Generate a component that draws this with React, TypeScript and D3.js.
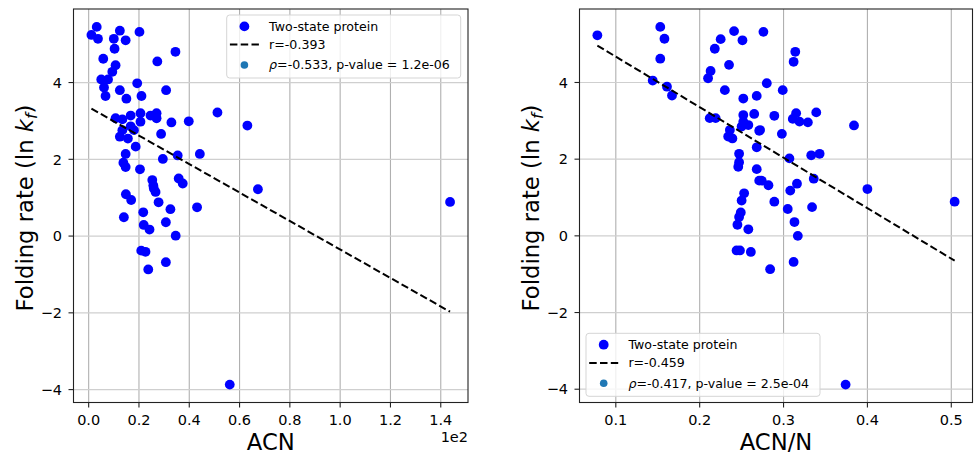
import React from "react";
import * as d3 from "d3";

// ACN vs folding rate
const acnPoints: [number, number][] = [
  [0.032, 5.45], [0.011, 5.24], [0.037, 5.14], [0.124, 5.35], [0.202, 5.32],
  [0.1, 5.14], [0.147, 5.1], [0.103, 4.88], [0.345, 4.8], [0.058, 4.62],
  [0.273, 4.55], [0.107, 4.45], [0.094, 4.28], [0.05, 4.08], [0.077, 4.08],
  [0.193, 3.98], [0.061, 3.87], [0.124, 3.8], [0.308, 3.8], [0.067, 3.65],
  [0.21, 3.65], [0.15, 3.58], [0.512, 3.22], [0.206, 3.2], [0.27, 3.2],
  [0.167, 3.14], [0.246, 3.14], [0.107, 3.07], [0.134, 3.04], [0.27, 3.07],
  [0.206, 2.98], [0.329, 2.96], [0.398, 2.99], [0.631, 2.88], [0.167, 2.86],
  [0.134, 2.76], [0.18, 2.76], [0.288, 2.66], [0.124, 2.59], [0.156, 2.54],
  [0.187, 2.33], [0.147, 2.14], [0.442, 2.14], [0.354, 2.1], [0.295, 2.01],
  [0.138, 1.91], [0.147, 1.8], [0.204, 1.74], [0.253, 1.46], [0.358, 1.5],
  [0.374, 1.37], [0.257, 1.32], [0.259, 1.24], [0.266, 1.15], [0.673, 1.22],
  [0.148, 1.09], [0.169, 0.94], [0.278, 0.88], [0.325, 0.7], [0.431, 0.75],
  [0.14, 0.49], [0.217, 0.62], [0.307, 0.36], [0.219, 0.29], [0.242, 0.17],
  [0.346, 0.01], [0.209, -0.38], [0.226, -0.41], [0.307, -0.68], [0.237, -0.87],
  [0.561, -3.87], [1.437, 0.89],
];

// ACN/N vs folding rate
const acnPerNPoints: [number, number][] = [
  [0.078, 5.23], [0.153, 5.45], [0.158, 5.14], [0.153, 4.62], [0.144, 4.05],
  [0.161, 3.89], [0.167, 3.66], [0.241, 5.34], [0.251, 5.1], [0.225, 5.13],
  [0.218, 4.88], [0.235, 4.46], [0.213, 4.3], [0.21, 4.11], [0.23, 3.8],
  [0.252, 3.58], [0.268, 3.65], [0.212, 3.07], [0.219, 3.07], [0.252, 3.15],
  [0.265, 3.18], [0.252, 2.98], [0.25, 2.85], [0.258, 2.89], [0.236, 2.76],
  [0.271, 2.74], [0.234, 2.59], [0.239, 2.54], [0.268, 2.31], [0.247, 2.14],
  [0.247, 1.92], [0.246, 1.8], [0.268, 1.74], [0.271, 1.44], [0.253, 1.11],
  [0.25, 0.92], [0.249, 0.61], [0.247, 0.49], [0.245, 0.29], [0.258, 0.17],
  [0.244, -0.38], [0.248, -0.38], [0.261, -0.42], [0.276, 5.32], [0.314, 4.8],
  [0.312, 4.54], [0.28, 3.98], [0.299, 3.8], [0.289, 3.13], [0.315, 3.2],
  [0.311, 3.05], [0.319, 2.98], [0.329, 2.96], [0.339, 3.22], [0.384, 2.88],
  [0.272, 2.76], [0.298, 2.66], [0.307, 2.02], [0.333, 2.1], [0.343, 2.14],
  [0.336, 1.49], [0.274, 1.44], [0.282, 1.32], [0.316, 1.36], [0.308, 1.18],
  [0.4, 1.22], [0.504, 0.89], [0.289, 0.89], [0.305, 0.7], [0.334, 0.75],
  [0.313, 0.36], [0.317, 0.0], [0.284, -0.87], [0.312, -0.68], [0.374, -3.88],
];

const acnFit = { slope: -3.71, intercept: 3.36 };
const acnPerNFit = { slope: -13.17, intercept: 5.99 };

const yTicks = [-4, -2, 0, 2, 4];
const acnTicks = [0, 0.2, 0.4, 0.6, 0.8, 1.0, 1.2, 1.4];
const acnPerNTicks = [0.1, 0.2, 0.3, 0.4, 0.5];

const acnLegend = ["Two-state protein", "r=-0.393", "=-0.533, p-value = 1.2e-06"];
const acnPerNLegend = ["Two-state protein", "r=-0.459", "=-0.417, p-value = 2.5e-04"];

const FONT = "DejaVu Sans, sans-serif";
const TOP = 9;
const BOTTOM = 402.5;
const DASH = "7.5,3.3";
const fmtMinus = (s: string) => s.replace("-", "\u2212");

function padded(vals: number[]) {
  const [lo, hi] = d3.extent(vals) as [number, number];
  const m = (hi - lo) * 0.05;
  return [lo - m, hi + m];
}

type PanelProps = {
  data: [number, number][];
  left: number;
  right: number;
  xTicks: number[];
  xFmt: (v: number) => string;
  xLabel: string;
  offsetText?: string;
  fit: { slope: number; intercept: number };
  legend: string[];
  legendX: number;
  legendY: number;
  legendW: number;
};

function Panel(p: PanelProps) {
  const x = d3.scaleLinear().domain(padded(p.data.map((d) => d[0]))).range([p.left, p.right]);
  const y = d3.scaleLinear().domain(padded(p.data.map((d) => d[1]))).range([BOTTOM, TOP]);
  const [x0, x1] = d3.extent(p.data, (d) => d[0]) as [number, number];
  const line = d3
    .line<number>()
    .x((v) => x(v))
    .y((v) => y(p.fit.slope * v + p.fit.intercept));
  const mx = p.legendX + 17.7;
  const tx = p.legendX + 42.4;
  const rows = [11.4, 29.6, 50].map((r) => p.legendY + r);

  return (
    <g fontFamily={FONT}>
      {/* grid */}
      {p.xTicks.map((t) => (
        <line key={"gx" + t} x1={x(t)} x2={x(t)} y1={TOP} y2={BOTTOM} stroke="#b0b0b0" strokeWidth={1.1} />
      ))}
      {yTicks.map((t) => (
        <line key={"gy" + t} x1={p.left} x2={p.right} y1={y(t)} y2={y(t)} stroke="#cfcfcf" strokeWidth={1.2} />
      ))}
      {/* points */}
      {p.data.map((d, i) => (
        <circle key={i} cx={x(d[0])} cy={y(d[1])} r={4.9} fill="#0000ff" />
      ))}
      <path d={line([x0, x1]) || ""} fill="none" stroke="#000" strokeWidth={2} strokeDasharray={DASH} />
      {/* spines */}
      <rect x={p.left} y={TOP} width={p.right - p.left} height={BOTTOM - TOP} fill="none" stroke="#222" strokeWidth={1.1} />
      {/* ticks */}
      {p.xTicks.map((t) => (
        <g key={"tx" + t}>
          <line x1={x(t)} x2={x(t)} y1={BOTTOM} y2={BOTTOM + 5} stroke="#222" strokeWidth={1.1} />
          <text x={x(t)} y={BOTTOM + 22.5} fontSize={14.5} textAnchor="middle" fill="#000">
            {p.xFmt(t)}
          </text>
        </g>
      ))}
      {yTicks.map((t) => (
        <g key={"ty" + t}>
          <line x1={p.left - 5} x2={p.left} y1={y(t)} y2={y(t)} stroke="#222" strokeWidth={1.1} />
          <text x={p.left - 11.5} y={y(t)} dy="0.36em" fontSize={14.5} textAnchor="end" fill="#000">
            {fmtMinus(String(t))}
          </text>
        </g>
      ))}
      {p.offsetText ? (
        <text x={p.right} y={441.5} fontSize={14.5} textAnchor="end">
          {p.offsetText}
        </text>
      ) : null}
      <text x={(p.left + p.right) / 2} y={450} fontSize={22.7} textAnchor="middle">
        {p.xLabel}
      </text>
      <text transform={`translate(${p.left - 41},208) rotate(-90)`} fontSize={22.7} textAnchor="middle">
        Folding rate (ln <tspan fontStyle="italic">k</tspan>
        <tspan fontStyle="italic" fontSize={16} dy={4}>f</tspan>
        <tspan dy={-4}>)</tspan>
      </text>
      {/* legend */}
      <rect x={p.legendX} y={p.legendY} width={p.legendW} height={63} rx={3} fill="#fff" fillOpacity={0.8} stroke="#d5d5d5" />
      <circle cx={mx} cy={rows[0]} r={4.9} fill="#0000ff" />
      <line x1={mx - 14.5} x2={mx + 14.5} y1={rows[1]} y2={rows[1]} stroke="#000" strokeWidth={2} strokeDasharray={DASH} />
      <circle cx={mx} cy={rows[2]} r={3.8} fill="#1f77b4" />
      <text x={tx} y={rows[0]} dy="0.35em" fontSize={12.6}>{p.legend[0]}</text>
      <text x={tx} y={rows[1]} dy="0.35em" fontSize={12.6}>{p.legend[1]}</text>
      <text x={tx} y={rows[2]} dy="0.35em" fontSize={12.6}>
        <tspan fontStyle="italic">ρ</tspan>
        {p.legend[2]}
      </text>
    </g>
  );
}

export default function App() {
  return (
    <svg width={974} height={456} style={{ position: "absolute", left: 0, top: 0, background: "#fff" }}>
      <rect width={974} height={456} fill="#fff" />
      <Panel
        data={acnPoints}
        left={73.5}
        right={468}
        xTicks={acnTicks}
        xFmt={d3.format(".1f")}
        xLabel="ACN"
        offsetText="1e2"
        fit={acnFit}
        legend={acnLegend}
        legendX={226.7}
        legendY={15}
        legendW={234}
      />
      <Panel
        data={acnPerNPoints}
        left={579.5}
        right={972.5}
        xTicks={acnPerNTicks}
        xFmt={d3.format(".1f")}
        xLabel="ACN/N"
        fit={acnPerNFit}
        legend={acnPerNLegend}
        legendX={586}
        legendY={333.3}
        legendW={234}
      />
    </svg>
  );
}
